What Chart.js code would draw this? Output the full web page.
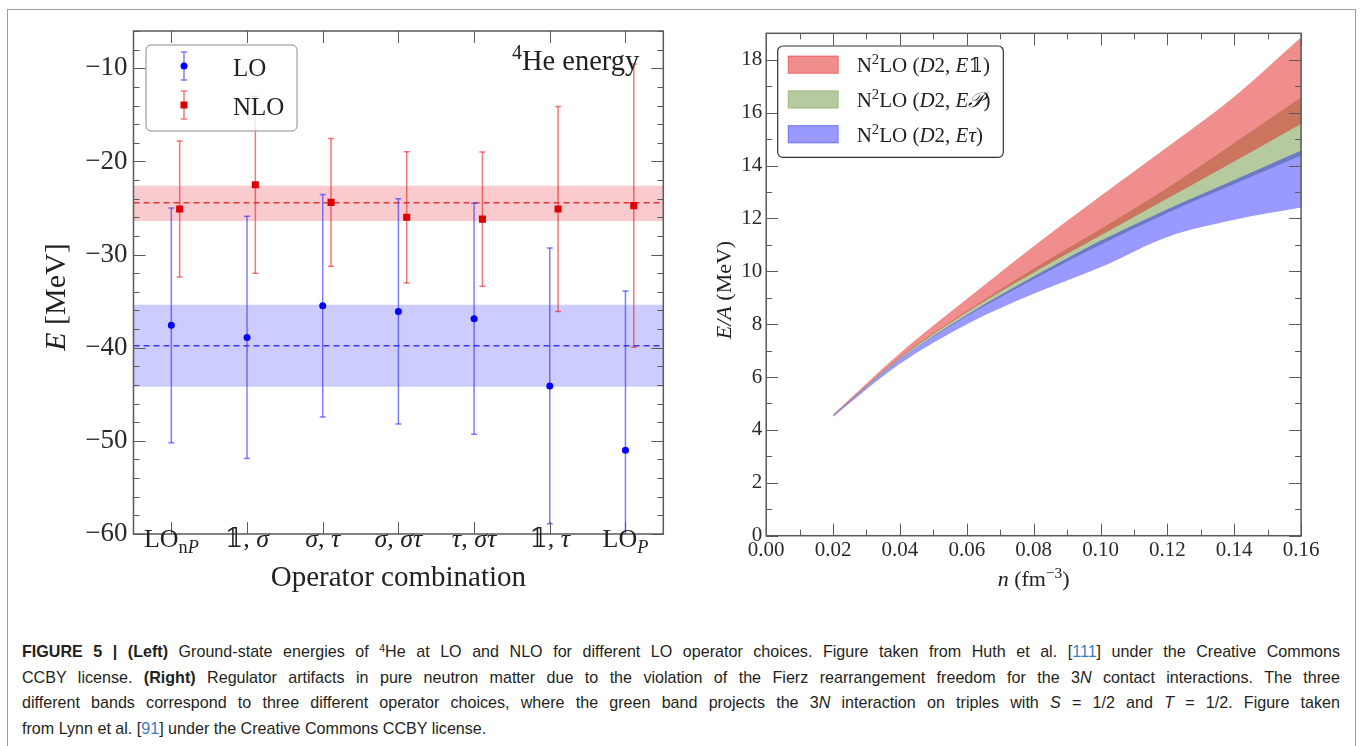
<!DOCTYPE html>
<html>
<head>
<meta charset="utf-8">
<script src="https://cdn.jsdelivr.net/npm/chart.js@4.4.0/dist/chart.umd.min.js"></script>
<style>
  body { margin: 0; background: #fff; width: 1360px; height: 746px; overflow: hidden; position: relative; }
  #frame { position: absolute; left: 7px; top: 9px; width: 1349px; height: 760px; border: 1px solid #9c9c9c; box-sizing: border-box; }
  #left { position: absolute; left: 0; top: 0; }
  #right { position: absolute; left: 680px; top: 0; }
  .cap { position: absolute; left: 22px; width: 1318px; font-family: 'Liberation Sans', Arial, sans-serif; font-size: 16.1px;
         line-height: 20px; color: #231f20; text-align: justify; text-align-last: justify; }
  .cap.last { text-align-last: left; }
  .cap sup { font-size: 10.5px; line-height: 0; vertical-align: 5px; }
  .ref { color: #3d7cc9; }
</style>
</head>
<body>
<div id="frame"></div>
<canvas id="left" width="680" height="610"></canvas>
<canvas id="right" width="680" height="610"></canvas>
<div class="cap" style="top:641px"><b>FIGURE 5 | (Left)</b> Ground-state energies of <sup>4</sup>He at LO and NLO for different LO operator choices. Figure taken from Huth et al. [<span class="ref">111</span>] under the Creative Commons</div>
<div class="cap" style="top:667px">CCBY license. <b>(Right)</b> Regulator artifacts in pure neutron matter due to the violation of the Fierz rearrangement freedom for the 3<i>N</i> contact interactions. The three</div>
<div class="cap" style="top:692px">different bands correspond to three different operator choices, where the green band projects the 3<i>N</i> interaction on triples with <i>S</i> = 1/2 and <i>T</i> = 1/2. Figure taken</div>
<div class="cap last" style="top:718px">from Lynn et al. [<span class="ref">91</span>] under the Creative Commons CCBY license.</div>

<script>
const SERIF = "'Liberation Serif','DejaVu Serif',serif";
Chart.defaults.font.family = SERIF;
Chart.defaults.color = '#2a2a2a';
Chart.defaults.animation = false;

// ---------- left panel: 4He energy per LO operator choice ----------
const ops = ['LO_{n$P$}', '𝟙, $σ$', '$σ$, $τ$', '$σ$, $στ$', '$τ$, $στ$', '𝟙, $τ$', 'LO_{$P$}'];
const opIdx = [0, 1, 2, 3, 4, 5, 6];
const loE = [-37.6, -38.9, -35.5, -36.1, -36.9, -44.1, -51.0];
const loErr = [12.6, 13.0, 11.95, 12.1, 12.4, 14.8, 17.1];
const nloE = [-25.1, -22.5, -24.4, -26.0, -26.2, -25.1, -24.75];
const nloErr = [7.3, 9.5, 6.85, 7.05, 7.2, 11.0, 15.2];
const loBand = [-44.2, -35.4];
const loMean = -39.8;
const nloBand = [-26.4, -22.6];
const nloMean = -24.45;
const eTicks = [-60, -50, -40, -30, -20, -10];
const leftLegend = ['LO', 'NLO'];

// ---------- right panel: neutron matter E/A ----------
const dens = [0.02, 0.04, 0.06, 0.08, 0.10, 0.12, 0.14, 0.16];
const e1Lo = [4.54, 6.72, 8.45, 9.95, 11.35, 12.75, 14.15, 15.58];
const e1Hi = [4.58, 6.90, 8.95, 10.95, 12.85, 14.70, 16.60, 18.85];
const epLo = [4.53, 6.66, 8.30, 9.70, 11.00, 12.20, 13.30, 14.38];
const epHi = [4.56, 6.76, 8.50, 10.10, 11.60, 13.15, 14.85, 16.58];
const etLo = [4.50, 6.50, 8.00, 9.15, 10.15, 11.30, 11.95, 12.41];
const etHi = [4.55, 6.68, 8.35, 9.80, 11.15, 12.35, 13.45, 14.57];
const nTicks = [0, 0.02, 0.04, 0.06, 0.08, 0.10, 0.12, 0.14, 0.16];
const eaTicks = [0, 2, 4, 6, 8, 10, 12, 14, 16, 18];
const bandNames = ['N^{2}LO ($D$2, $E$𝟙)', 'N^{2}LO ($D$2, $E𝒫$)', 'N^{2}LO ($D$2, $Eτ$)'];

const BLUE = '#0000ff', RED = '#dd0000';
const bandCols = ['rgba(225,30,30,0.5)', 'rgba(120,160,80,0.55)', 'rgba(0,0,255,0.4)'];

// ---------- rich text helpers ($..$ italic, _{..} sub, ^{..} sup) ----------
function parseRich(s) {
  const runs = [];
  let it = false, script = 0, buf = '';
  const push = () => { if (buf) { runs.push({ t: buf, it, script }); buf = ''; } };
  for (let i = 0; i < s.length; i++) {
    const c = s[i];
    if (c === '$') { push(); it = !it; }
    else if ((c === '_' || c === '^') && s[i + 1] === '{') { push(); script = c === '_' ? -1 : 1; i++; }
    else if (c === '}' && script !== 0) { push(); script = 0; }
    else buf += c;
  }
  push();
  return runs;
}
function richFont(r, size) {
  return (r.it ? 'italic ' : '') + (r.script ? size * 0.7 : size) + 'px ' + SERIF;
}
function drawRich(ctx, s, x, y, size, align, color) {
  const runs = parseRich(s);
  let w = 0;
  runs.forEach(r => { ctx.font = richFont(r, size); r.w = ctx.measureText(r.t).width; w += r.w; });
  let cx = align === 'center' ? x - w / 2 : align === 'right' ? x - w : x;
  ctx.textAlign = 'left';
  ctx.textBaseline = 'alphabetic';
  ctx.fillStyle = color || '#222';
  runs.forEach(r => {
    ctx.font = richFont(r, size);
    const dy = r.script < 0 ? size * 0.22 : r.script > 0 ? -size * 0.38 : 0;
    ctx.fillText(r.t, cx, y + dy);
    cx += r.w;
  });
  return w;
}
function roundRect(ctx, x, y, w, h, r) {
  ctx.beginPath();
  ctx.moveTo(x + r, y);
  ctx.arcTo(x + w, y, x + w, y + h, r);
  ctx.arcTo(x + w, y + h, x, y + h, r);
  ctx.arcTo(x, y + h, x, y, r);
  ctx.arcTo(x, y, x + w, y, r);
  ctx.closePath();
}

// inward ticks on all four sides plus the box
const frameTicks = {
  id: 'frameTicks',
  afterDatasetsDraw(chart, args, o) {
    const { ctx, chartArea: a, scales: { x, y } } = chart;
    ctx.save();
    ctx.strokeStyle = '#5a5a5a';
    ctx.lineWidth = 1;
    const seg = (x1, y1, x2, y2) => { ctx.beginPath(); ctx.moveTo(x1, y1); ctx.lineTo(x2, y2); ctx.stroke(); };
    const xt = (v, len) => { const p = Math.round(x.getPixelForValue(v)) + 0.5; seg(p, a.bottom, p, a.bottom - len); seg(p, a.top, p, a.top + len); };
    const yt = (v, len) => { const p = Math.round(y.getPixelForValue(v)) + 0.5; seg(a.left, p, a.left + len, p); seg(a.right, p, a.right - len, p); };
    o.xMinor.forEach(v => xt(v, 6));
    o.yMinor.forEach(v => yt(v, 6));
    x.ticks.forEach(t => xt(t.value, 12));
    y.ticks.forEach(t => yt(t.value, 12));
    ctx.lineWidth = 1.5;
    ctx.strokeRect(a.left, a.top, a.right - a.left, a.bottom - a.top);
    ctx.restore();
  }
};

function stepList(a, b, s) { const r = []; for (let v = a; v <= b + 1e-9; v += s) r.push(+v.toFixed(4)); return r; }

// ---------- left chart ----------
const leftDeco = {
  id: 'leftDeco',
  afterDraw(chart) {
    const { ctx, chartArea: a, scales: { x } } = chart;
    ctx.save();
    opIdx.forEach(i => drawRich(ctx, ops[i], x.getPixelForValue(i), 547, 26, 'center', '#222'));
    drawRich(ctx, 'Operator combination', (a.left + a.right) / 2, 586, 29, 'center', '#222');
    drawRich(ctx, '^{4}He energy', 512, 70, 28.5, 'left', '#222');
    ctx.save();
    ctx.translate(65, 297);
    ctx.rotate(-Math.PI / 2);
    drawRich(ctx, '$E$ [MeV]', 0, 0, 30, 'center', '#222');
    ctx.restore();
    // legend
    const bx = a.left + 12.5, by = a.top + 14;
    roundRect(ctx, bx, by, 151, 86, 5);
    ctx.fillStyle = 'rgba(255,255,255,0.8)';
    ctx.fill();
    ctx.strokeStyle = '#8a8a8a';
    ctx.lineWidth = 1;
    ctx.stroke();
    const cols = [BLUE, RED];
    leftLegend.forEach((name, k) => {
      const cx = bx + 38, cy = by + 21 + k * 39;
      ctx.strokeStyle = k ? 'rgba(235,30,30,0.6)' : 'rgba(40,40,255,0.6)';
      ctx.lineWidth = 1.5;
      ctx.beginPath();
      ctx.moveTo(cx, cy - 14); ctx.lineTo(cx, cy + 14);
      ctx.moveTo(cx - 3, cy - 14); ctx.lineTo(cx + 3, cy - 14);
      ctx.moveTo(cx - 3, cy + 14); ctx.lineTo(cx + 3, cy + 14);
      ctx.stroke();
      ctx.fillStyle = cols[k];
      if (k) ctx.fillRect(cx - 3.5, cy - 3.5, 7, 7);
      else { ctx.beginPath(); ctx.arc(cx, cy, 3.5, 0, Math.PI * 2); ctx.fill(); }
      drawRich(ctx, name, bx + 87, cy + 9.5, 25, 'left', '#222');
    });
    ctx.restore();
  }
};

const hLine = (yv) => [{ x: -0.5, y: yv }, { x: 6.5, y: yv }];
const errSets = [];
opIdx.forEach(i => {
  errSets.push({ data: [{ x: i, y: loE[i] - loErr[i] }, { x: i, y: loE[i] + loErr[i] }],
    borderColor: 'rgba(40,40,255,0.6)', borderWidth: 1.5, pointStyle: 'line', pointRadius: 3,
    pointBorderWidth: 1.5, pointBorderColor: 'rgba(40,40,255,0.6)', showLine: true, order: 3, clip: 0 });
  errSets.push({ data: [{ x: i + 0.11, y: nloE[i] - nloErr[i] }, { x: i + 0.11, y: nloE[i] + nloErr[i] }],
    borderColor: 'rgba(235,30,30,0.6)', borderWidth: 1.5, pointStyle: 'line', pointRadius: 3,
    pointBorderWidth: 1.5, pointBorderColor: 'rgba(235,30,30,0.6)', showLine: true, order: 3, clip: 0 });
});

new Chart(document.getElementById('left'), {
  type: 'line',
  data: {
    datasets: [
      { data: hLine(nloBand[0]), borderWidth: 0, pointRadius: 0, fill: false, order: 10 },
      { data: hLine(nloBand[1]), borderWidth: 0, pointRadius: 0, fill: '-1', backgroundColor: 'rgba(232,60,75,0.27)', order: 10 },
      { data: hLine(loBand[0]), borderWidth: 0, pointRadius: 0, fill: false, order: 10 },
      { data: hLine(loBand[1]), borderWidth: 0, pointRadius: 0, fill: '-1', backgroundColor: 'rgba(0,0,255,0.2)', order: 10 },
      { data: hLine(nloMean), borderColor: 'rgba(225,40,40,0.9)', borderWidth: 1.5, borderDash: [6, 4], pointRadius: 0, order: 9 },
      { data: hLine(loMean), borderColor: 'rgba(40,40,235,0.9)', borderWidth: 1.5, borderDash: [6, 4], pointRadius: 0, order: 9 },
      ...errSets,
      { data: opIdx.map(i => ({ x: i, y: loE[i] })), showLine: false, pointStyle: 'circle', pointRadius: 3.5,
        pointBackgroundColor: BLUE, pointBorderWidth: 0, order: 1 },
      { data: opIdx.map(i => ({ x: i + 0.11, y: nloE[i] })), showLine: false, pointStyle: 'rect', pointRadius: 5,
        pointBackgroundColor: RED, pointBorderWidth: 0, order: 1 }
    ]
  },
  options: {
    responsive: false,
    events: [],
    layout: { padding: { left: 0, top: 31, right: 16.7, bottom: 0 } },
    plugins: {
      legend: { display: false }, tooltip: { enabled: false },
      frameTicks: { xMinor: [], yMinor: stepList(-60, -6, 2) }
    },
    scales: {
      x: {
        type: 'linear', min: -0.5, max: 6.5,
        afterBuildTicks: s => { s.ticks = opIdx.map(v => ({ value: v })); },
        afterFit: s => { s.height = 76; },
        ticks: { display: false },
        grid: { display: false }, border: { display: false }
      },
      y: {
        min: -60, max: -6,
        afterBuildTicks: s => { s.ticks = eTicks.map(v => ({ value: v })); },
        afterFit: s => { s.width = 133.5; },
        ticks: { font: { size: 27 }, padding: 6, color: '#2a2a2a', callback: v => String(v).replace('-', '−') },
        grid: { display: false, drawTicks: false }, border: { display: false }
      }
    }
  },
  plugins: [frameTicks, leftDeco]
});

// ---------- right chart ----------
const rightDeco = {
  id: 'rightDeco',
  afterDraw(chart) {
    const { ctx, chartArea: a } = chart;
    ctx.save();
    drawRich(ctx, '$n$ (fm^{−3})', (a.left + a.right) / 2, 586, 22, 'center', '#222');
    ctx.save();
    ctx.translate(51, 290);
    ctx.rotate(-Math.PI / 2);
    drawRich(ctx, '$E/A$ (MeV)', 0, 0, 22, 'center', '#222');
    ctx.restore();
    const bx = 97.7, by = 46;
    roundRect(ctx, bx, by, 225.6, 111.3, 5);
    ctx.fillStyle = 'rgba(255,255,255,0.9)';
    ctx.fill();
    ctx.strokeStyle = '#333';
    ctx.lineWidth = 1.2;
    ctx.stroke();
    bandNames.forEach((name, k) => {
      const sy = by + 10 + k * 34.8;
      ctx.fillStyle = bandCols[k];
      ctx.fillRect(bx + 10.5, sy, 50, 17.3);
      ctx.strokeStyle = bandCols[k];
      ctx.lineWidth = 1;
      ctx.strokeRect(bx + 10.5, sy, 50, 17.3);
      drawRich(ctx, name, bx + 79, sy + 16, 21, 'left', '#222');
    });
    ctx.restore();
  }
};

const pts = arr => dens.map((d, i) => ({ x: d, y: arr[i] }));
const bandSet = (lo, hi, col, ord) => [
  { data: pts(lo), borderWidth: 0, pointRadius: 0, fill: false, order: ord, cubicInterpolationMode: 'monotone' },
  { data: pts(hi), borderWidth: 0, pointRadius: 0, fill: '-1', backgroundColor: col, order: ord, cubicInterpolationMode: 'monotone' }
];

new Chart(document.getElementById('right'), {
  type: 'line',
  data: {
    datasets: [
      ...bandSet(epLo, epHi, bandCols[1], 3),
      ...bandSet(e1Lo, e1Hi, bandCols[0], 2),
      ...bandSet(etLo, etHi, bandCols[2], 1)
    ]
  },
  options: {
    responsive: false,
    events: [],
    layout: { padding: { left: 0, top: 33.3, right: 58.9, bottom: 0 } },
    plugins: {
      legend: { display: false }, tooltip: { enabled: false },
      filler: { propagate: false },
      frameTicks: { xMinor: stepList(0, 0.16, 0.01), yMinor: stepList(0, 19, 1) }
    },
    scales: {
      x: {
        type: 'linear', min: 0, max: 0.16,
        afterBuildTicks: s => { s.ticks = nTicks.map(v => ({ value: v })); },
        afterFit: s => { s.height = 74.3; },
        ticks: { font: { size: 21 }, padding: 2, color: '#2a2a2a', maxRotation: 0, callback: v => v.toFixed(2) },
        grid: { display: false, drawTicks: false }, border: { display: false }
      },
      y: {
        min: 0, max: 19,
        afterBuildTicks: s => { s.ticks = eaTicks.map(v => ({ value: v })); },
        afterFit: s => { s.width = 86.2; },
        ticks: { font: { size: 21 }, padding: 4, color: '#2a2a2a' },
        grid: { display: false, drawTicks: false }, border: { display: false }
      }
    }
  },
  plugins: [frameTicks, rightDeco]
});
</script>
</body>
</html>
